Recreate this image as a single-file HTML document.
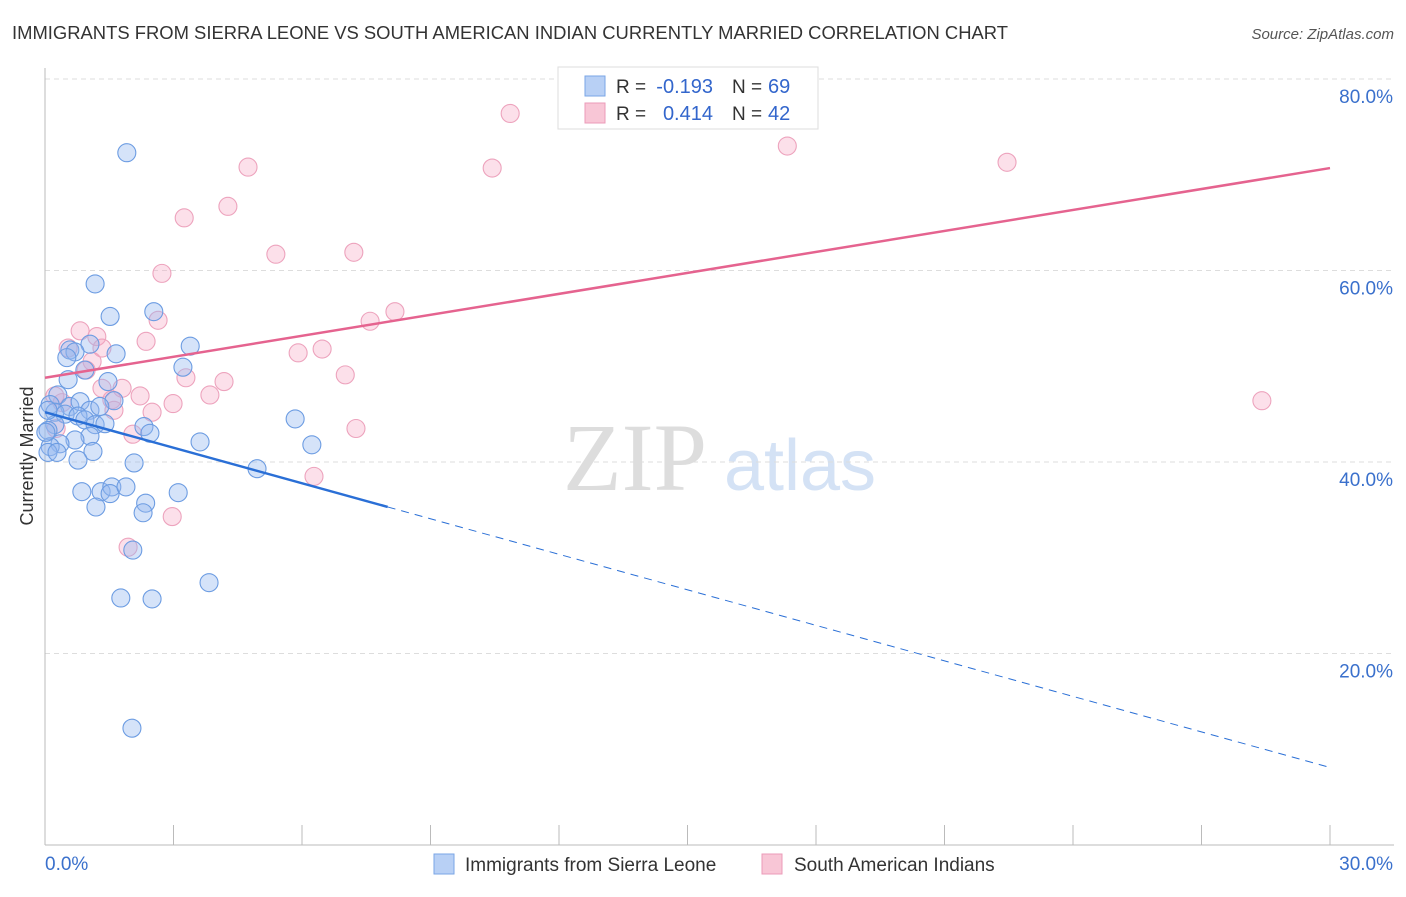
<!DOCTYPE html>
<html><head><meta charset="utf-8"><style>
body{margin:0;background:#fff;font-family:"Liberation Sans",sans-serif;}
</style></head><body>
<svg width="1406" height="892" xmlns="http://www.w3.org/2000/svg" id="chart">
<text x="12" y="39" font-size="18" fill="#333" textLength="996" lengthAdjust="spacingAndGlyphs">IMMIGRANTS FROM SIERRA LEONE VS SOUTH AMERICAN INDIAN CURRENTLY MARRIED CORRELATION CHART</text>
<text x="1394" y="39" font-size="15" fill="#555" font-style="italic" text-anchor="end">Source: ZipAtlas.com</text>
<text x="635" y="490" font-size="96" fill="#ddd" font-family="Liberation Serif,serif" text-anchor="middle">ZIP</text>
<text x="800" y="490" font-size="72" fill="#d4e2f5" text-anchor="middle">atlas</text>
<g id="grid"></g>
<g id="axes"></g>
<g id="marks"></g>
<text transform="translate(33,456) rotate(-90)" font-size="18" fill="#333" text-anchor="middle">Currently Married</text>
<g>
<rect x="558" y="67" width="260" height="62" fill="#fff" stroke="#ddd"/>
<rect x="585" y="76" width="20" height="20" fill="#b8d0f5" stroke="#7aa6e6"/>
<rect x="585" y="103" width="20" height="20" fill="#f8c6d6" stroke="#eb9bb8"/>
<text x="616" y="93" font-size="19" fill="#333">R =</text>
<text x="713" y="93" font-size="20" fill="#3366cc" text-anchor="end">-0.193</text>
<text x="732" y="93" font-size="19" fill="#333">N =</text>
<text x="768" y="93" font-size="20" fill="#3366cc">69</text>
<text x="616" y="120" font-size="19" fill="#333">R =</text>
<text x="713" y="120" font-size="20" fill="#3366cc" text-anchor="end">0.414</text>
<text x="732" y="120" font-size="19" fill="#333">N =</text>
<text x="768" y="120" font-size="20" fill="#3366cc">42</text>
</g>
<g>
<rect x="434" y="854" width="20" height="20" fill="#b8d0f5" stroke="#7aa6e6"/>
<text x="465" y="871" font-size="19" fill="#333">Immigrants from Sierra Leone</text>
<rect x="762" y="854" width="20" height="20" fill="#f8c6d6" stroke="#eb9bb8"/>
<text x="794" y="871" font-size="19" fill="#333">South American Indians</text>
</g>
</svg>
<script>
const xTicks=[0,3,6,9,12,15,18,21,24,27,30];
const yTicks=[20,40,60,80];
const yTickLabels=["20.0%","40.0%","60.0%","80.0%"];
const blueX=[1.91,1.17,1.52,2.54,3.39,1.66,1.05,0.58,0.70,0.51,0.93,3.22,0.54,1.47,0.30,1.61,0.12,0.58,0.82,1.05,1.28,0.23,0.47,0.77,0.93,1.17,1.40,0.23,0.07,2.31,2.45,1.05,0.70,0.35,0.12,3.62,5.84,6.23,0.07,0.28,1.12,0.77,2.08,4.95,0.86,1.31,1.56,1.52,1.89,2.35,3.11,1.19,2.29,2.05,3.83,1.77,2.50,2.03,0.02,0.07];
const blueY=[72.3,58.6,55.2,55.7,52.1,51.3,52.3,51.7,51.5,50.9,49.6,49.9,48.6,48.4,47.0,46.4,46.0,45.8,46.3,45.4,45.8,45.2,45.0,44.8,44.4,43.9,44.0,43.9,43.3,43.7,43.0,42.7,42.3,41.9,41.6,42.1,44.5,41.8,41.0,41.0,41.1,40.2,39.9,39.3,36.9,36.9,37.4,36.7,37.4,35.7,36.8,35.3,34.7,30.8,27.4,25.8,25.7,12.2,43.1,45.4];
const pinkX=[10.86,17.33,22.46,4.74,10.44,4.27,3.25,5.39,7.21,2.73,8.17,7.59,2.64,0.82,1.21,2.36,0.54,1.33,6.47,5.91,1.10,0.96,7.01,3.29,4.18,1.80,1.33,3.85,2.22,0.23,28.41,2.99,1.56,0.40,1.61,2.50,0.26,7.26,2.05,6.28,2.97,1.94];
const pinkY=[76.4,73.0,71.3,70.8,70.7,66.7,65.5,61.7,61.9,59.7,55.7,54.7,54.8,53.7,53.1,52.6,51.9,51.9,51.8,51.4,50.5,49.6,49.1,48.8,48.4,47.7,47.7,47.0,46.9,46.9,46.4,46.1,46.5,46.2,45.4,45.2,43.5,43.5,42.9,38.5,34.3,31.1];
const blueTrend=[45.2,8.1];
const pinkTrend=[48.8,70.7];
const blueSolidEnd=8.0;
const NS="http://www.w3.org/2000/svg";
const sx=v=>45+v/30*1285;
const sy=v=>845-v/20*191.5;
function mk(tag,attrs,parent){const e=document.createElementNS(NS,tag);for(const k in attrs)e.setAttribute(k,attrs[k]);document.getElementById(parent).appendChild(e);return e;}
yTicks.forEach((t,i)=>{
 const l=mk('line',{x1:45,x2:1394,y1:sy(t),y2:sy(t),stroke:'#ddd','stroke-dasharray':'5,4'},'grid');
 
 
 const tx=mk('text',{x:1393,y:sy(t)+24,'font-size':19,fill:'#3a70cc','text-anchor':'end'},'axes');
 tx.textContent=yTickLabels[i];
 
 
});
const ya=mk('line',{x1:45,x2:45,y1:68,y2:845,stroke:'#bbb'},'axes');


const xa=mk('line',{x1:45,x2:1394,y1:845,y2:845,stroke:'#bbb'},'axes');


xTicks.forEach(t=>{
 const l=mk('line',{x1:sx(t),x2:sx(t),y1:825,y2:845,stroke:'#bbb'},'axes');
 
 
});
const xl0=mk('text',{x:45,y:870,'font-size':19,fill:'#3a70cc'},'axes');xl0.textContent='0.0%';


const xl1=mk('text',{x:1393,y:870,'font-size':19,fill:'#3a70cc','text-anchor':'end'},'axes');xl1.textContent='30.0%';


pinkX.forEach((x,i)=>{
 const c=mk('circle',{cx:sx(x),cy:sy(pinkY[i]),r:9,fill:'rgba(245,165,195,0.35)',stroke:'#eda3bd','stroke-width':1.1},'marks');
 
 
});
blueX.forEach((x,i)=>{
 const c=mk('circle',{cx:sx(x),cy:sy(blueY[i]),r:9,fill:'rgba(150,185,240,0.4)',stroke:'#6c9ce2','stroke-width':1.1},'marks');
 
 
});
const bv=x=>blueTrend[0]+(blueTrend[1]-blueTrend[0])*x/30;
const b1=mk('line',{x1:sx(0),y1:sy(bv(0)),x2:sx(blueSolidEnd),y2:sy(bv(blueSolidEnd)),stroke:'#2a6fd6','stroke-width':2.5},'marks');


const b2=mk('line',{x1:sx(blueSolidEnd),y1:sy(bv(blueSolidEnd)),x2:sx(30),y2:sy(bv(30)),stroke:'#2a6fd6','stroke-width':1,'stroke-dasharray':'8,6'},'marks');


const p1=mk('line',{x1:sx(0),y1:sy(pinkTrend[0]),x2:sx(30),y2:sy(pinkTrend[1]),stroke:'#e5638f','stroke-width':2.5},'marks');


</script>
</body></html>
